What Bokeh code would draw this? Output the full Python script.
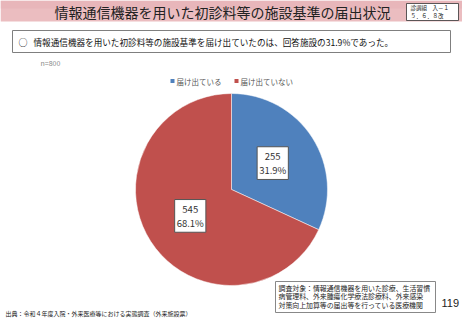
import numpy as np
from bokeh.plotting import figure
from bokeh.models import Range1d, ColumnDataSource
from bokeh.core.properties import value
from bokeh.embed import file_html
from bokeh.resources import INLINE

# ---- data ----
title = "情報通信機器を用いた初診料等の施設基準の届出状況"
doc_id = ["診調組　入－１", "５．６．８改"]
summary = "情報通信機器を用いた初診料等の施設基準を届け出ていたのは、回答施設の31.9%であった。"
n_label = "n=800"
categories = ["届け出ている", "届け出ていない"]
counts = [255, 545]
percents = ["31.9%", "68.1%"]
colors = ["#4F81BD", "#C0504D"]
note_lines = ["調査対象：情報通信機器を用いた診療、生活習慣",
              "病管理料、外来腫瘍化学療法診療料、外来感染",
              "対策向上加算等の届出等を行っている医療機関"]
page_no = "119"
source = "出典：令和４年度入院・外来医療等における実態調査（外来施設票）"

W, H = 462, 320
FONT = value("Noto Sans CJK JP")

def Y(py):
    return H - py

p = figure(width=W, height=H, output_backend="svg", toolbar_location=None,
           x_range=Range1d(0, W), y_range=Range1d(0, H),
           min_border=0, outline_line_color=None)
p.axis.visible = False
p.grid.visible = False
p.background_fill_color = "white"
p.border_fill_color = "white"

# title bar
p.quad(left=0, right=W, top=Y(0), bottom=Y(21), fill_color="#EBBDC0", line_color=None)
p.quad(left=0, right=W, top=Y(0), bottom=Y(8), fill_color="#E6B0B4", line_color=None, fill_alpha=0.5)
p.text(x=[222], y=[Y(11)], text=[title], text_font=FONT, text_font_size="14px",
       text_color="#222222", text_align="center", text_baseline="middle")
p.quad(left=406, right=458, top=Y(3), bottom=Y(20), fill_color="white", line_color="#333333", line_width=0.8)
p.text(x=[410, 410], y=[Y(7.5), Y(15)], text=doc_id, text_font=FONT, text_font_size="5.5px",
       text_color="#222222", text_align="left", text_baseline="middle")

# summary box
p.quad(left=12, right=450, top=Y(30), bottom=Y(52), fill_color="white", line_color="#7F7F7F", line_width=1)
p.text(x=[18], y=[Y(41.5)], text=["○"], text_font=FONT, text_font_size="9px",
       text_color="#111111", text_baseline="middle")
p.text(x=[33], y=[Y(41.5)], text=[summary], text_font=FONT, text_font_size="8.6px",
       text_color="#111111", text_baseline="middle")

# n label
p.text(x=[40], y=[Y(62)], text=[n_label], text_font=FONT, text_font_size="7px",
       text_color="#888888", text_baseline="middle")

# legend
leg_sq_x = [172, 236]
p.rect(x=leg_sq_x, y=[Y(80.5)] * 2, width=4, height=4, fill_color=colors, line_color=None)
p.text(x=[s + 4 for s in leg_sq_x], y=[Y(80.5)] * 2, text=categories, text_font=FONT,
       text_font_size="7.5px", text_color="#555555", text_baseline="middle")

# pie
cx, cy, R = 231, Y(189), 96
vals = np.array(counts, dtype=float)
frac = vals / vals.sum()
cum = np.concatenate([[0], np.cumsum(frac)])
start = np.pi / 2 - cum[:-1] * 2 * np.pi
end = np.pi / 2 - cum[1:] * 2 * np.pi
src = ColumnDataSource(dict(start=start, end=end, color=colors))
p.wedge(x=cx, y=cy, radius=R, start_angle="start", end_angle="end", direction="clock",
        fill_color="color", line_color="white", line_width=0.5, source=src)

mid = (start + end) / 2
lr = 0.51 * R
lx = cx + lr * np.cos(mid)
ly = cy + lr * np.sin(mid)
labels = [f"{c}\n{pc}" for c, pc in zip(counts, percents)]
p.text(x=lx, y=ly, text=labels, text_font=FONT, text_font_size="9.5px",
       text_color="#333333", text_align="center", text_baseline="middle",
       text_line_height=1.05,
       background_fill_color="white", border_line_color="#555555", border_line_width=1,
       padding=2)

# note box
p.quad(left=275, right=435, top=Y(281), bottom=Y(312), fill_color="white", line_color="#888888", line_width=1)
p.text(x=[278] * 3, y=[Y(287), Y(295.5), Y(304)], text=note_lines, text_font=FONT,
       text_font_size="6.9px", text_color="#222222", text_baseline="middle")

p.text(x=[441], y=[Y(302)], text=[page_no], text_font=value("Liberation Sans"), text_font_size="11px",
       text_color="#222222", text_baseline="middle")

p.text(x=[5], y=[Y(313)], text=[source], text_font=FONT, text_font_size="6px",
       text_color="#222222", text_baseline="middle")

open("out.html", "w").write(file_html(p, INLINE))
